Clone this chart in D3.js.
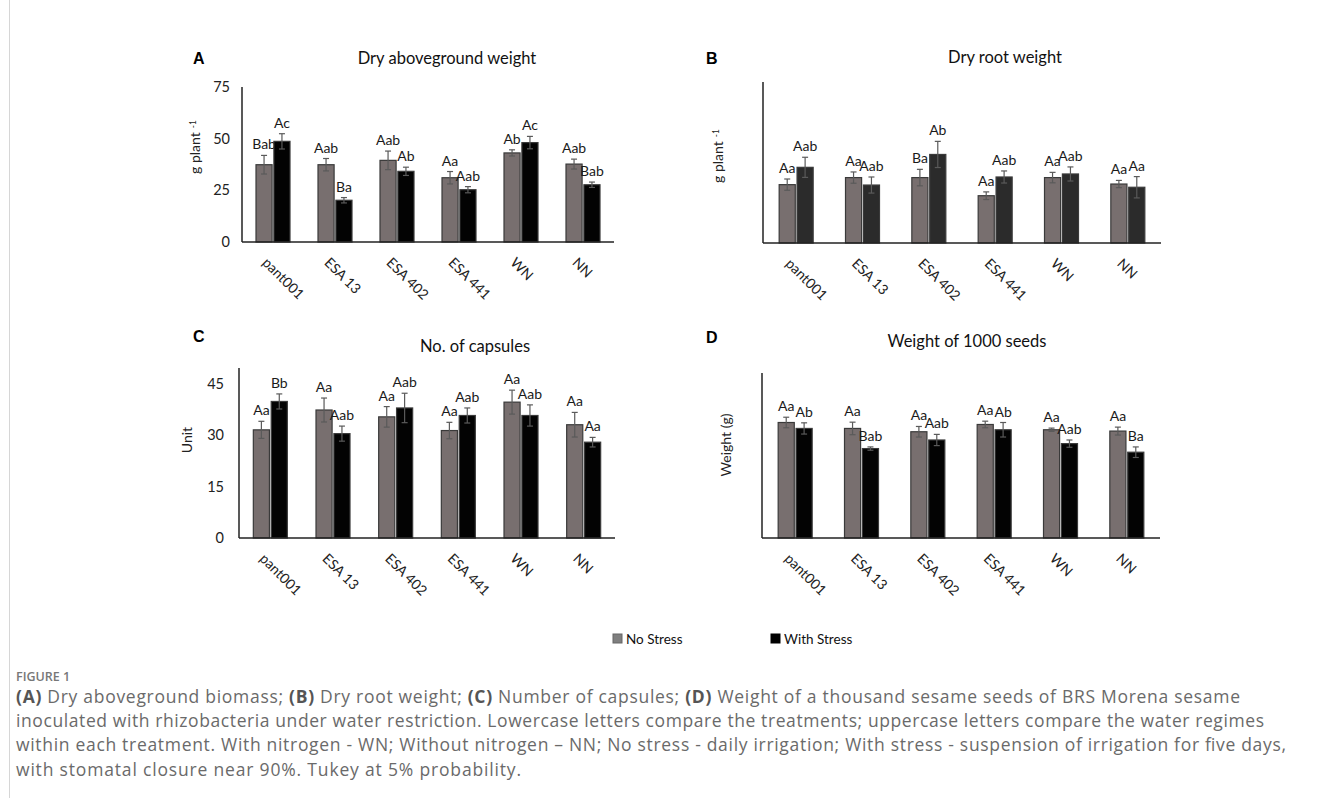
<!DOCTYPE html>
<html lang="en">
<head>
    <meta charset="UTF-8">
    <title>Figure 1 - sesame biomass</title>
    <script src="https://d3js.org/d3.v7.min.js"></script>
    <style>
        body {
            margin: 0;
            background: #fff;
        }
        svg text {
            font-family: Lato, "Open Sans", sans-serif;
        }
        .caption text {
            font-family: "Open Sans", sans-serif;
        }
    </style>
</head>
<body>
    <script>
        // treatments and series
        const treatments = ["pant001", "ESA 13", "ESA 402", "ESA 441", "WN", "NN"];
        const series = ["No Stress", "With Stress"];

        // A - dry aboveground weight
        const aNoStress = [37.4, 37.4, 39.5, 31.1, 43.1, 37.7];
        const aWithStress = [48.7, 20.2, 34.2, 25.3, 48.1, 27.7];
        const aErrNo = [4.5, 3.0, 4.5, 3.0, 1.5, 2.4];
        const aErrWith = [3.7, 1.3, 2.0, 1.5, 3.0, 1.3];
        const aLetNo = ["Bab", "Aab", "Aab", "Aa", "Ab", "Aab"];
        const aLetWith = ["Ac", "Ba", "Ab", "Aab", "Ac", "Bab"];

        // B - dry root weight (no tick labels in the original)
        const bNoStress = [2.90, 3.25, 3.25, 2.35, 3.25, 2.93];
        const bWithStress = [3.76, 2.88, 4.40, 3.28, 3.43, 2.77];
        const bErrNo = [0.28, 0.28, 0.41, 0.19, 0.26, 0.18];
        const bErrWith = [0.5, 0.4, 0.65, 0.3, 0.35, 0.53];
        const bLetNo = ["Aa", "Aa", "Ba", "Aa", "Aa", "Aa"];
        const bLetWith = ["Aab", "Aab", "Ab", "Aab", "Aab", "Aa"];

        // C - number of capsules
        const cNoStress = [31.6, 37.4, 35.4, 31.4, 39.7, 33.1];
        const cWithStress = [39.9, 30.5, 38.0, 35.8, 35.8, 28.0];
        const cErrNo = [2.5, 3.5, 3.0, 2.4, 3.5, 3.6];
        const cErrWith = [2.2, 2.2, 4.3, 2.2, 3.1, 1.4];
        const cLetNo = ["Aa", "Aa", "Aa", "Aa", "Aa", "Aa"];
        const cLetWith = ["Bb", "Aab", "Aab", "Aab", "Aab", "Aa"];

        // D - weight of 1000 seeds (no tick labels in the original)
        const dNoStress = [3.50, 3.32, 3.22, 3.44, 3.28, 3.24];
        const dWithStress = [3.32, 2.71, 2.97, 3.28, 2.86, 2.60];
        const dErrNo = [0.16, 0.19, 0.16, 0.10, 0.05, 0.12];
        const dErrWith = [0.17, 0.05, 0.17, 0.22, 0.11, 0.16];
        const dLetNo = ["Aa", "Aa", "Aa", "Aa", "Aa", "Aa"];
        const dLetWith = ["Ab", "Bab", "Aab", "Ab", "Aab", "Ba"];

        const aTicks = [0, 25, 50, 75];
        const cTicks = [0, 15, 30, 45];

        const width = 1320, height = 798;
        const svg = d3.select("body").append("svg")
            .attr("width", width)
            .attr("height", height);

        // thin frame line on the left
        svg.append("line")
            .attr("x1", 9.5).attr("x2", 9.5)
            .attr("y1", 0).attr("y2", height)
            .attr("stroke", "#d6d6d6");

        const panels = [
            { id: "A", title: "Dry aboveground weight", yLabel: "g plant", sup: true,
              no: aNoStress, wi: aWithStress, eNo: aErrNo, eWi: aErrWith, lNo: aLetNo, lWi: aLetWith,
              left: 242, right: 614, base: 242, domain: [0, 75], top: 87, axisTop: 87, ticks: aTicks,
              dark: "#030303", letter: [193, 64], titlePos: [447, 64], yLabPos: [195, 147], tickX: 230 },
            { id: "B", title: "Dry root weight", yLabel: "g plant", sup: true,
              no: bNoStress, wi: bWithStress, eNo: bErrNo, eWi: bErrWith, lNo: bLetNo, lWi: bLetWith,
              left: 763, right: 1161, base: 243, domain: [0, 8], top: 82, axisTop: 82, ticks: null,
              dark: "#2b2b2b", letter: [706, 64], titlePos: [1005, 63], yLabPos: [718, 156] },
            { id: "C", title: "No. of capsules", yLabel: "Unit", sup: false,
              no: cNoStress, wi: cWithStress, eNo: cErrNo, eWi: cErrWith, lNo: cLetNo, lWi: cLetWith,
              left: 239, right: 615, base: 538, domain: [0, 45], top: 384, axisTop: 368, ticks: cTicks,
              dark: "#030303", letter: [193, 342], titlePos: [475, 352], yLabPos: [187, 440], tickX: 224 },
            { id: "D", title: "Weight of 1000 seeds", yLabel: "Weight  (g)", sup: false,
              no: dNoStress, wi: dWithStress, eNo: dErrNo, eWi: dErrWith, lNo: dLetNo, lWi: dLetWith,
              left: 762, right: 1160, base: 538, domain: [0, 5], top: 373, axisTop: 373, ticks: null,
              dark: "#030303", letter: [706, 343], titlePos: [967, 347], yLabPos: [726, 445] }
        ];

        const grey = "#786f6f";

        panels.forEach(p => {
            const g = svg.append("g");

            const x0 = d3.scaleBand().domain(treatments).range([p.left, p.right]);
            const x1 = d3.scaleBand().domain(series).range([-17, 17]).paddingInner(0.1);
            const y = d3.scaleLinear().domain(p.domain).range([p.base, p.top]);

            const rows = treatments.map((t, i) => ({
                t,
                vals: [
                    { s: series[0], v: p.no[i], e: p.eNo[i], lab: p.lNo[i], fill: grey },
                    { s: series[1], v: p.wi[i], e: p.eWi[i], lab: p.lWi[i], fill: p.dark }
                ]
            }));

            const grp = g.selectAll(".grp")
                .data(rows)
                .enter().append("g")
                .attr("transform", d => `translate(${x0(d.t) + x0.bandwidth() / 2},0)`);

            const cell = grp.selectAll("g")
                .data(d => d.vals)
                .enter().append("g");

            cell.append("rect")
                .attr("x", d => x1(d.s))
                .attr("width", x1.bandwidth())
                .attr("y", d => y(d.v))
                .attr("height", d => p.base - y(d.v))
                .attr("fill", d => d.fill)
                .attr("stroke", "#3a3a3a")
                .attr("stroke-width", 1.2);

            // error bars
            const ex = d => x1(d.s) + x1.bandwidth() / 2;
            cell.append("line")
                .attr("x1", ex).attr("x2", ex)
                .attr("y1", d => y(d.v + d.e)).attr("y2", d => y(d.v - d.e))
                .attr("stroke", "#5a5a5a").attr("stroke-width", 1.2);
            [1, -1].forEach(sg => {
                cell.append("line")
                    .attr("x1", d => ex(d) - 3).attr("x2", d => ex(d) + 3)
                    .attr("y1", d => y(d.v + sg * d.e)).attr("y2", d => y(d.v + sg * d.e))
                    .attr("stroke", "#5a5a5a").attr("stroke-width", 1.2);
            });

            // significance letters
            cell.append("text")
                .attr("x", ex)
                .attr("y", d => y(d.v + d.e) - 6)
                .attr("text-anchor", "middle")
                .attr("font-size", 14)
                .attr("fill", "#1a1a1a")
                .text(d => d.lab);

            // axes
            g.append("line")
                .attr("x1", p.left).attr("x2", p.left)
                .attr("y1", p.axisTop).attr("y2", p.base)
                .attr("stroke", "#222").attr("stroke-width", 1.5);
            g.append("line")
                .attr("x1", p.left).attr("x2", p.right)
                .attr("y1", p.base).attr("y2", p.base)
                .attr("stroke", "#222").attr("stroke-width", 1.5);

            if (p.ticks) {
                g.selectAll(".tick")
                    .data(p.ticks)
                    .enter().append("text")
                    .attr("x", p.tickX)
                    .attr("y", d => y(d))
                    .attr("dy", "0.35em")
                    .attr("text-anchor", "end")
                    .attr("font-size", 14.5)
                    .attr("fill", "#222")
                    .text(d => d);
            }

            // category labels, rotated
            g.selectAll(".xl")
                .data(treatments)
                .enter().append("text")
                .attr("transform", d => `translate(${x0(d) + x0.bandwidth() / 2 - 8},${p.base + 18}) rotate(45)`)
                .attr("dy", "0.35em")
                .attr("font-size", 14)
                .attr("fill", "#222")
                .text(d => d);

            // titles
            g.append("text")
                .attr("x", p.titlePos[0]).attr("y", p.titlePos[1])
                .attr("text-anchor", "middle")
                .attr("font-size", 16.5)
                .attr("fill", "#111")
                .text(p.title);

            g.append("text")
                .attr("x", p.letter[0]).attr("y", p.letter[1])
                .style("font-family", "'Liberation Sans', Arial, sans-serif")
                .attr("font-weight", "bold")
                .attr("font-size", 16)
                .text(p.id);

            const yl = g.append("text")
                .attr("transform", `translate(${p.yLabPos[0]},${p.yLabPos[1]}) rotate(-90)`)
                .attr("text-anchor", "middle")
                .attr("dy", "0.35em")
                .attr("font-size", 14)
                .attr("fill", "#222");
            yl.append("tspan").text(p.yLabel);
            if (p.sup) {
                yl.append("tspan").attr("dx", 4).attr("dy", "-0.5em").attr("font-size", 8.5).text("-1");
            }
        });

        // legend
        const legend = svg.append("g");
        const legX = [613, 771];
        const legFill = ["#7f7f7f", "#000"];
        series.forEach((s, i) => {
            legend.append("rect")
                .attr("x", legX[i]).attr("y", 634)
                .attr("width", 9).attr("height", 9)
                .attr("fill", legFill[i])
                .attr("stroke", i === 0 ? "#666" : "#000");
            legend.append("text")
                .attr("x", legX[i] + 13).attr("y", 639)
                .attr("dy", "0.35em")
                .attr("font-size", 13.5)
                .attr("fill", "#111")
                .text(s);
        });

        // caption
        const cap = svg.append("g").attr("class", "caption");
        cap.append("text")
            .attr("x", 16).attr("y", 681)
            .attr("font-size", 12.5)
            .attr("font-weight", 600)
            .attr("fill", "#777")
            .text("FIGURE 1");

        const captionLines = [
            [["(A)", true], [" Dry aboveground biomass; ", false], ["(B)", true], [" Dry root weight; ", false],
             ["(C)", true], [" Number of capsules; ", false], ["(D)", true],
             [" Weight of a thousand sesame seeds of BRS Morena sesame", false]],
            [["inoculated with rhizobacteria under water restriction. Lowercase letters compare the treatments; uppercase letters compare the water regimes", false]],
            [["within each treatment. With nitrogen - WN; Without nitrogen \u2013 NN; No stress - daily irrigation; With stress - suspension of irrigation for five days,", false]],
            [["with stomatal closure near 90%. Tukey at 5% probability.", false]]
        ];
        const lineY = [703, 727, 751, 776];
        const lineLen = [1224, 1248, 1270, 505];
        captionLines.forEach((parts, i) => {
            const t = cap.append("text")
                .attr("x", 16).attr("y", lineY[i])
                .attr("font-size", 17.5)
                .attr("textLength", lineLen[i])
                .attr("lengthAdjust", "spacing")
                .attr("fill", "#6a6a6a");
            parts.forEach(([txt, bold]) => {
                t.append("tspan")
                    .attr("font-weight", bold ? 700 : 400)
                    .attr("fill", bold ? "#555" : "#6a6a6a")
                    .text(txt);
            });
        });
    </script>
</body>
</html>
